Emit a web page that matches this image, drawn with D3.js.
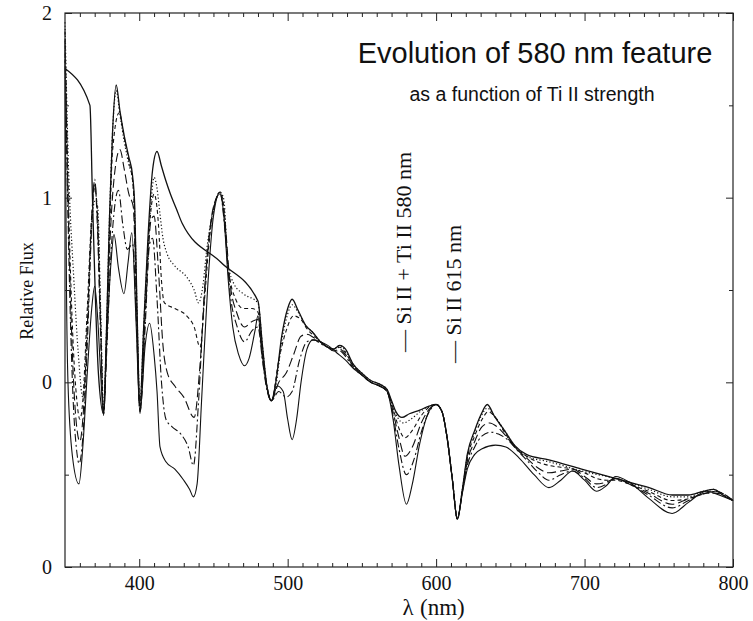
<!DOCTYPE html>
<html><head><meta charset="utf-8">
<script src="https://cdn.jsdelivr.net/npm/d3@7"></script>
<style>body{margin:0;background:#fff}</style>
</head><body>
<svg id="c" width="753" height="621"></svg>
<script>
// ---------- data ----------
const xMajorTicks = [400, 500, 600, 700, 800];
const xMinorTicks = d3.range(360, 800, 10).filter(v => v % 100 !== 0);
const yTickValues = [-1, 0, 1, 2];
const yTickLabels = ["0", "0", "1", "2"];
const yMinorTicks = [-0.5, 0.5, 1.5];

// top solid (coarse model)
const series0 = [[350,1.70],[366.8,1.50],[368.5,1.0],[370.5,0.45],[372.5,0.05],[376,-0.17],[378,0.3],[380,0.9],[382,1.35],[384.5,1.61],[387,1.47],[390,1.33],[393,1.22],[395.5,1.12],[397,0.95],[398.5,0.4],[400.5,-0.12],[403,0.3],[406,0.8],[409,1.15],[412,1.25],[415,1.17],[418,1.09],[421,1.02],[425,0.94],[429,0.86],[455,0.65],[480,0.44],[483,0.2],[486,-0.02],[489,-0.1],[492,0.0],[496,0.25],[500,0.40],[503,0.45],[507,0.39],[512,0.31],[517,0.27],[522,0.22],[527,0.19],[531,0.18],[535,0.20],[539,0.18],[544,0.10],[550,0.05],[556,0.01],[562,-0.01],[567,-0.04],[570,-0.10],[573,-0.16],[577,-0.19],[582,-0.17],[589,-0.15],[595,-0.13],[600,-0.12],[604,-0.16],[607.6,-0.31],[611,-0.53],[614.3,-0.74],[617.7,-0.58],[621,-0.39],[626,-0.26],[630.5,-0.17],[634.5,-0.12],[639,-0.18],[646,-0.26],[652.7,-0.34],[660.8,-0.39],[676,-0.42],[698,-0.47],[725,-0.53],[743.5,-0.57],[759,-0.61],[770,-0.61],[780,-0.59],[787,-0.58],[793,-0.61],[800,-0.64]];
// dotted
const series1 = [[350,1.95],[352,1.26],[356,0.55],[359,0.15],[362,-0.08],[364,0.1],[366,0.5],[368,0.85],[370,0.98],[372,0.95],[374,0.4],[376,-0.15],[378,0.3],[380,0.9],[382,1.35],[384.5,1.58],[387,1.45],[390,1.3],[393,1.18],[395.5,1.1],[397,0.9],[398.5,0.4],[400.5,-0.12],[403,0.3],[406,0.75],[408,0.98],[410,1.11],[412,1.05],[414,0.91],[416,0.78],[418.6,0.70],[424,0.63],[432,0.57],[437,0.50],[440,0.43],[443,0.53],[445.5,0.72],[449,0.90],[454.5,1.03],[457,0.99],[459.6,0.65],[464,0.53],[470,0.48],[480,0.43],[483,0.2],[486,-0.02],[489,-0.1],[492,-0.02],[496,0.22],[500,0.37],[503,0.42],[507,0.38],[512,0.31],[517,0.27],[522,0.22],[527,0.19],[531,0.18],[535,0.20],[539,0.17],[544,0.10],[550,0.05],[556,0.01],[562,-0.01],[567,-0.04],[570,-0.11],[574,-0.19],[578,-0.22],[583,-0.20],[589,-0.16],[595,-0.13],[600,-0.12],[604,-0.16],[607.6,-0.31],[611,-0.53],[614.3,-0.74],[617.7,-0.58],[621,-0.40],[626,-0.27],[630.5,-0.18],[634.5,-0.14],[639,-0.18],[646,-0.26],[652.7,-0.34],[660.8,-0.40],[676,-0.43],[698,-0.48],[725,-0.53],[743.5,-0.58],[759,-0.62],[770,-0.62],[780,-0.59],[787,-0.58],[793,-0.61],[800,-0.64]];
// short dash
const series2 = [[350,1.9],[352,1.1],[355,0.3],[358,-0.1],[360,-0.2],[362,-0.1],[365,0.4],[368,0.9],[370,1.05],[372,0.9],[374,0.35],[376,-0.16],[378,0.25],[380,0.8],[382,1.25],[386.5,1.46],[390,1.32],[393,1.2],[396,1.05],[398,0.5],[400.5,-0.14],[404,0.4],[407,0.85],[410,1.02],[413,0.85],[415,0.55],[417,0.43],[424,0.40],[432,0.36],[437,0.30],[441,0.19],[444,0.45],[447,0.75],[451,0.97],[454.5,1.03],[457,0.95],[460,0.62],[465,0.45],[470,0.40],[476,0.40],[480,0.38],[483,0.15],[486,-0.02],[489,-0.1],[494,0.12],[499,0.28],[504,0.36],[509,0.34],[513,0.29],[518,0.25],[522,0.22],[527,0.19],[531,0.18],[535,0.19],[539,0.16],[544,0.09],[550,0.04],[556,0.0],[562,-0.02],[567,-0.05],[571,-0.14],[575,-0.25],[579,-0.30],[584,-0.26],[590,-0.18],[596,-0.13],[600,-0.12],[604,-0.16],[607.6,-0.31],[611,-0.53],[614.3,-0.74],[617.7,-0.58],[621,-0.41],[626,-0.29],[631,-0.20],[635,-0.16],[640,-0.19],[646,-0.27],[653,-0.35],[661,-0.40],[668,-0.43],[676,-0.45],[684,-0.46],[692,-0.47],[700,-0.49],[708,-0.52],[715,-0.53],[721,-0.53],[730,-0.55],[743,-0.59],[759,-0.64],[770,-0.63],[782,-0.60],[788,-0.59],[800,-0.64]];
// long dash
const series3 = [[350,1.85],[352,1.0],[355,0.15],[358,-0.25],[360,-0.32],[362,-0.2],[365,0.3],[368,0.9],[370,1.08],[372,0.85],[374,0.3],[376,-0.17],[378,0.2],[380,0.7],[383,1.1],[387,1.26],[390,1.15],[393,1.02],[396,0.95],[398,0.45],[400.5,-0.15],[404,0.35],[408,0.88],[410,0.9],[413,0.6],[416,0.2],[419,0.05],[424,-0.02],[430,-0.08],[437,-0.19],[441,0.1],[445,0.6],[450,0.95],[454.5,1.02],[458,0.85],[461,0.55],[466,0.37],[471,0.30],[476,0.33],[480,0.34],[483,0.13],[486,-0.03],[489,-0.1],[494,0.0],[499,0.05],[504,0.15],[509,0.25],[513,0.26],[518,0.24],[522,0.22],[527,0.19],[531,0.17],[535,0.18],[539,0.15],[544,0.09],[550,0.04],[556,0.0],[562,-0.02],[567,-0.05],[571,-0.16],[575,-0.30],[579,-0.40],[584,-0.35],[590,-0.22],[596,-0.14],[600,-0.12],[604,-0.16],[607.6,-0.31],[611,-0.53],[614.3,-0.74],[617.7,-0.59],[621,-0.43],[626,-0.32],[631,-0.24],[636,-0.22],[641,-0.24],[647,-0.29],[654,-0.36],[661,-0.41],[668,-0.46],[676,-0.49],[684,-0.48],[692,-0.47],[700,-0.51],[708,-0.55],[715,-0.54],[721,-0.52],[730,-0.55],[743,-0.60],[759,-0.66],[770,-0.63],[782,-0.60],[788,-0.59],[800,-0.64]];
// dash-dot
const series4 = [[350,1.8],[352,0.9],[355,0.0],[358,-0.38],[359.5,-0.44],[362,-0.3],[365,0.2],[368,0.85],[370,1.1],[372,0.8],[374,0.25],[376,-0.17],[378,0.15],[381,0.7],[386,1.04],[389,0.85],[392,0.72],[395.5,0.75],[398,0.35],[400.5,-0.16],[404,0.3],[407,0.75],[409,0.78],[412,0.45],[415,0.0],[418,-0.2],[422,-0.24],[428,-0.28],[433,-0.35],[436.5,-0.45],[440,-0.1],[444,0.5],[449,0.9],[454.5,1.02],[458,0.8],[461,0.5],[466,0.30],[471,0.22],[476,0.28],[480,0.30],[483,0.12],[486,-0.04],[489,-0.1],[494,-0.05],[499,-0.08],[503,-0.05],[508,0.12],[513,0.22],[518,0.23],[522,0.21],[527,0.19],[531,0.17],[535,0.17],[539,0.14],[544,0.08],[550,0.04],[556,0.0],[562,-0.02],[567,-0.05],[571,-0.18],[575,-0.36],[580,-0.50],[585,-0.42],[590,-0.27],[596,-0.15],[600,-0.12],[604,-0.16],[607.6,-0.31],[611,-0.53],[614.3,-0.74],[617.7,-0.59],[621,-0.45],[626,-0.35],[631,-0.29],[637,-0.27],[642,-0.28],[648,-0.31],[655,-0.37],[662,-0.43],[669,-0.49],[676,-0.53],[684,-0.50],[692,-0.48],[700,-0.52],[708,-0.57],[715,-0.55],[721,-0.52],[730,-0.55],[743,-0.61],[759,-0.68],[770,-0.64],[782,-0.60],[788,-0.60],[800,-0.64]];
// bottom solid (strongest Ti II)
const series5 = [[350,1.75],[351,0.5],[352,0.0],[355,-0.4],[359.4,-0.55],[362,-0.35],[365,0.05],[368,0.4],[370,0.52],[372,0.35],[374,0.05],[376,-0.18],[378,0.2],[381,0.65],[383,0.80],[386,0.62],[389.7,0.48],[392.5,0.65],[395,0.81],[398,0.3],[400.5,-0.17],[404,0.2],[407,0.32],[410,0.15],[412,-0.05],[414,-0.35],[418,-0.43],[424,-0.47],[430,-0.53],[434,-0.58],[436.5,-0.62],[439,-0.55],[442,-0.1],[446,0.5],[450,0.9],[454.5,1.03],[457,0.9],[460,0.55],[463,0.3],[467,0.15],[471,0.09],[474,0.13],[478,0.28],[480,0.36],[483,0.15],[486,-0.02],[489,-0.1],[493,-0.02],[497,-0.05],[500,-0.2],[503,-0.31],[506,-0.2],[509,0.0],[513,0.18],[517,0.23],[522,0.22],[527,0.2],[533,0.16],[539,0.12],[545,0.07],[550,0.04],[556,0.0],[562,-0.02],[567,-0.05],[571,-0.20],[575,-0.45],[580,-0.66],[584,-0.55],[589,-0.33],[595,-0.16],[600,-0.12],[604,-0.16],[607.6,-0.31],[611,-0.53],[614.3,-0.74],[617.7,-0.6],[621,-0.47],[626,-0.39],[631,-0.36],[640,-0.34],[647,-0.35],[656,-0.41],[666,-0.50],[676,-0.57],[684,-0.53],[692,-0.48],[700,-0.53],[708,-0.59],[714.6,-0.56],[721,-0.51],[730,-0.54],[743.5,-0.63],[759,-0.71],[770,-0.65],[782,-0.59],[790.6,-0.61],[800,-0.64]];

const seriesList = [series0, series1, series2, series3, series4, series5];
const seriesDash = ["none", "1.2,2.2", "4,3", "9,4", "8,3,2,3", "none"];
const seriesWidth = [1.3, 1.2, 1.1, 1.1, 1.1, 1.1];

// ---------- layout ----------
const svg = d3.select("#c");
const L = 65, R = 733, T = 13, B = 567;
const x = d3.scaleLinear().domain([350, 800]).range([L, R]);
const y = d3.scaleLinear().domain([-1, 2]).range([B, T]);

const serif = "'Liberation Serif','Times New Roman',serif";
const sans = "'Liberation Sans',Arial,Helvetica,sans-serif";

// curves
const line = d3.line().x(d => x(d[0])).y(d => y(d[1])).curve(d3.curveMonotoneX);
svg.append("g").selectAll("path").data(seriesList).join("path")
  .attr("d", line)
  .attr("fill", "none")
  .attr("stroke", "#111")
  .attr("stroke-width", (d, i) => seriesWidth[i])
  .attr("stroke-dasharray", (d, i) => seriesDash[i])
  .attr("stroke-linejoin", "round");

// axes
function styleAxis(g) {
  g.select(".domain").remove();
  g.selectAll("line").attr("stroke", "#222");
  g.selectAll("text").attr("font-family", serif).attr("font-size", 20).attr("fill", "#111");
}
svg.append("g").attr("transform", `translate(0,${B})`)
  .call(d3.axisBottom(x).tickValues(xMajorTicks).tickSize(-8).tickPadding(9).tickFormat(d3.format("d"))).call(styleAxis);
svg.append("g").attr("transform", `translate(0,${B})`)
  .call(d3.axisBottom(x).tickValues(xMinorTicks).tickSize(-4).tickFormat("")).call(styleAxis);
svg.append("g").attr("transform", `translate(0,${T})`)
  .call(d3.axisTop(x).tickValues(xMajorTicks).tickSize(-8).tickFormat("")).call(styleAxis);
svg.append("g").attr("transform", `translate(0,${T})`)
  .call(d3.axisTop(x).tickValues(xMinorTicks).tickSize(-4).tickFormat("")).call(styleAxis);
svg.append("g").attr("transform", `translate(${L},0)`)
  .call(d3.axisLeft(y).tickValues(yTickValues).tickSize(-7).tickPadding(13).tickFormat((d, i) => yTickLabels[i])).call(styleAxis);
svg.append("g").attr("transform", `translate(${L},0)`)
  .call(d3.axisLeft(y).tickValues(yMinorTicks).tickSize(-4).tickFormat("")).call(styleAxis);
svg.append("g").attr("transform", `translate(${R},0)`)
  .call(d3.axisRight(y).tickValues(yTickValues).tickSize(-7).tickFormat("")).call(styleAxis);
svg.append("g").attr("transform", `translate(${R},0)`)
  .call(d3.axisRight(y).tickValues(yMinorTicks).tickSize(-4).tickFormat("")).call(styleAxis);

// frame
svg.append("rect").attr("x", L).attr("y", T).attr("width", R - L).attr("height", B - T)
  .attr("fill", "none").attr("stroke", "#222").attr("stroke-width", 1.2);

// axis titles
svg.append("text").attr("x", 408).attr("y", 615).attr("text-anchor", "middle")
  .attr("font-family", serif).attr("font-size", 23).attr("fill", "#111").text("λ");
svg.append("text").attr("x", 420).attr("y", 615).attr("text-anchor", "start")
  .attr("font-family", serif).attr("font-size", 23).attr("fill", "#111").text("(nm)");
svg.append("text").attr("transform", "translate(33,291) rotate(-90)").attr("text-anchor", "middle")
  .attr("font-family", serif).attr("font-size", 18).attr("fill", "#111").text("Relative Flux");

// titles
svg.append("text").attr("x", 535).attr("y", 63).attr("text-anchor", "middle")
  .attr("font-family", sans).attr("font-size", 29).attr("fill", "#111").text("Evolution of 580 nm feature");
svg.append("text").attr("x", 532).attr("y", 101).attr("text-anchor", "middle")
  .attr("font-family", sans).attr("font-size", 19.5).attr("fill", "#111").text("as a function of Ti II strength");

// line identifications
svg.append("text").attr("transform", "translate(411,352) rotate(-90)").attr("text-anchor", "start")
  .attr("font-family", serif).attr("font-size", 22).attr("fill", "#111").text("— Si II + Ti II 580 nm");
svg.append("text").attr("transform", "translate(461,363) rotate(-90)").attr("text-anchor", "start")
  .attr("font-family", serif).attr("font-size", 22).attr("fill", "#111").text("— Si II 615 nm");
</script>
</body></html>
